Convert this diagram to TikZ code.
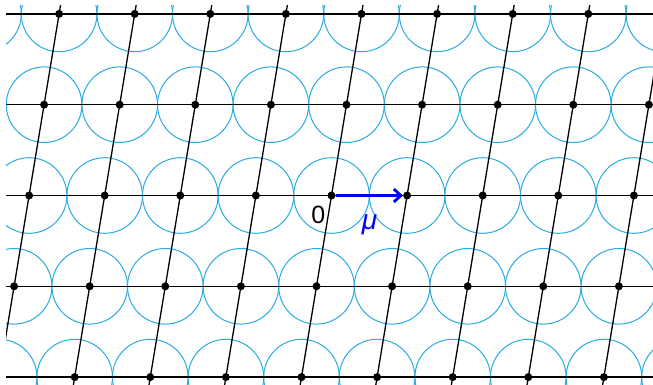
\documentclass[tikz,border=0pt]{standalone}
\usepackage{fontspec}
\setmainfont{Liberation Sans}
\usetikzlibrary{arrows.meta}
\definecolor{circcol}{RGB}{41,171,226}
\begin{document}
\begin{tikzpicture}[x=1pt,y=1pt,
  circ/.style={draw=circcol, line width=1pt},
  latline/.style={draw=black, line width=1.3pt},
  dot/.style={circle, fill=black, inner sep=0pt, minimum size=8pt},
  vec/.style={draw=blue, line width=2.8pt, -{Straight Barb[length=7pt,width=13pt]}},
  lbl/.style={font=\fontsize{25}{28}\selectfont, inner sep=0pt}]
\useasboundingbox (0,0) rectangle (653,384);
\foreach \j in {-3,...,3}{
  \foreach \i in {-7,...,7}{
    \coordinate (p\i_\j) at ({331.5+75.6*\i+15*\j},{188.5+90.8*\j});
  }
}
\begin{scope}
  \clip (6,0) rectangle (653,378);
  \foreach \j in {-3,...,3}{
    \foreach \i in {-7,...,7}{
      \draw[circ] (p\i_\j) circle (37.8);
    }
  }
  \foreach \j in {-2,...,2}{
    \draw[latline] (p-7_\j) -- (p7_\j);
  }
  \foreach \i in {-7,...,7}{
    \draw[latline] (p\i_-3) -- (p\i_3);
  }
  \foreach \j in {-2,...,2}{
    \foreach \i in {-7,...,7}{
      \node[dot] (d\i_\j) at (p\i_\j) {};
    }
  }
\end{scope}
\draw[vec] (d0_0) -- (d1_0);
\node[lbl] (zero) at (318.3,169.5) {0};
\node[lbl, text=blue, font=\fontsize{28}{32}\selectfont] (mu) at (369.5,159) {\textit{μ}};
\end{tikzpicture}
\end{document}
